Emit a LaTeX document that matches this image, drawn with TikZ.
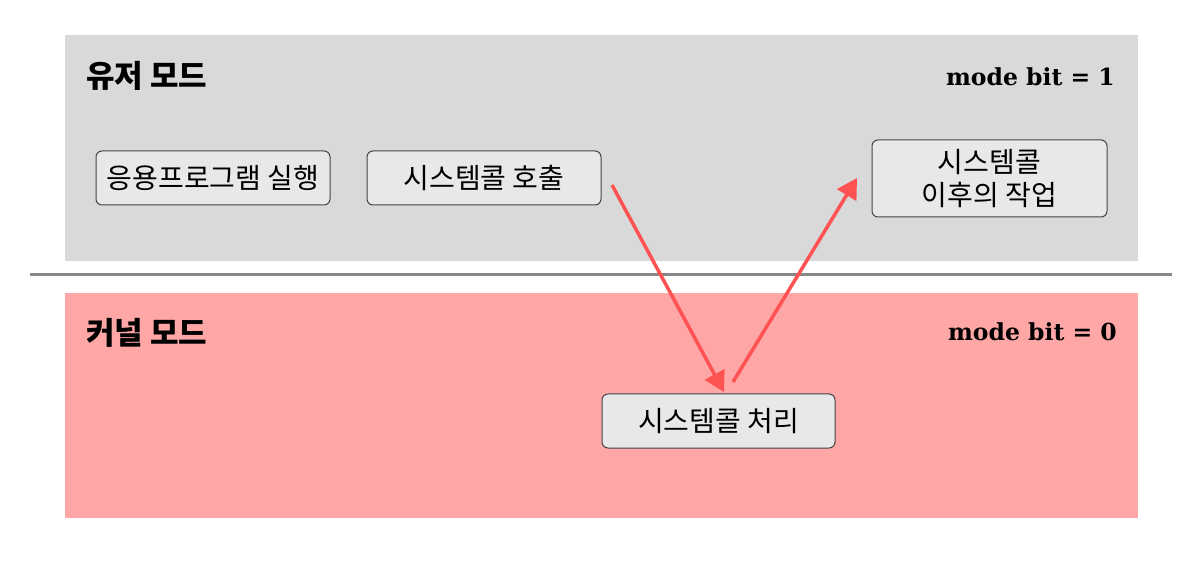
\documentclass[tikz,border=0pt]{standalone}
\usepackage{fontspec}
\setmainfont{Noto Sans CJK KR}
\newfontfamily\kr{Noto Sans CJK KR}
\newfontfamily\slab{DejaVu Serif}
\usetikzlibrary{arrows.meta}
\definecolor{usergray}{HTML}{D9D9D9}
\definecolor{kernpink}{HTML}{FFA6A6}
\definecolor{boxfill}{HTML}{E8E8E8}
\definecolor{boxline}{HTML}{444444}
\definecolor{sepline}{HTML}{888888}
\definecolor{arrred}{HTML}{FF5252}
\tikzset{
  stepbox/.style={draw=boxline, line width=1pt, fill=boxfill, rounded corners=6pt, font=\kr\fontsize{28}{33}\selectfont, align=center, inner sep=0pt},
  title/.style={font=\kr\bfseries\fontsize{31}{36}\selectfont, anchor=west, inner sep=0pt},
  modebit/.style={font=\slab\bfseries\fontsize{23.5}{28}\selectfont, anchor=east, inner sep=0pt},
  flow/.style={draw=arrred, line width=3.5pt, -{Triangle[length=20pt,width=22pt]}, shorten >=0pt}
}
\begin{document}
\begin{tikzpicture}[x=1pt,y=-1pt]
\useasboundingbox (0,0) rectangle (1184,569);
\fill[usergray] (65,35) rectangle (1138,261);
\fill[kernpink] (65,293) rectangle (1138,518);
\coordinate (sl) at (30,275);
\coordinate (sr) at (1172,275);
\draw[sepline, line width=3pt] (sl) -- (sr);
\node[title] (ut) at (86,76) {유저 모드};
\node[title] (kt) at (86,333) {커널 모드};
\node[modebit] (mb1) at (1115,77) {mode bit = 1};
\node[modebit] (mb0) at (1117,332) {mode bit = 0};
\node[stepbox, minimum width=234pt, minimum height=54pt] (app) at (213,178) {응용프로그램 실행};
\node[stepbox, minimum width=234pt, minimum height=54pt] (call) at (484,178) {시스템콜 호출};
\node[stepbox, minimum width=235pt, minimum height=77pt] (after) at (989.5,178.5) {시스템콜\\이후의 작업};
\node[stepbox, minimum width=233pt, minimum height=54pt] (proc) at (718.5,421) {시스템콜 처리};
\coordinate (a1s) at (612,185);
\coordinate (a1e) at (724,392);
\coordinate (a2s) at (733,382);
\coordinate (a2e) at (857,178);
\draw[flow] (a1s) -- (a1e);
\draw[flow] (a2s) -- (a2e);
\end{tikzpicture}
\end{document}
